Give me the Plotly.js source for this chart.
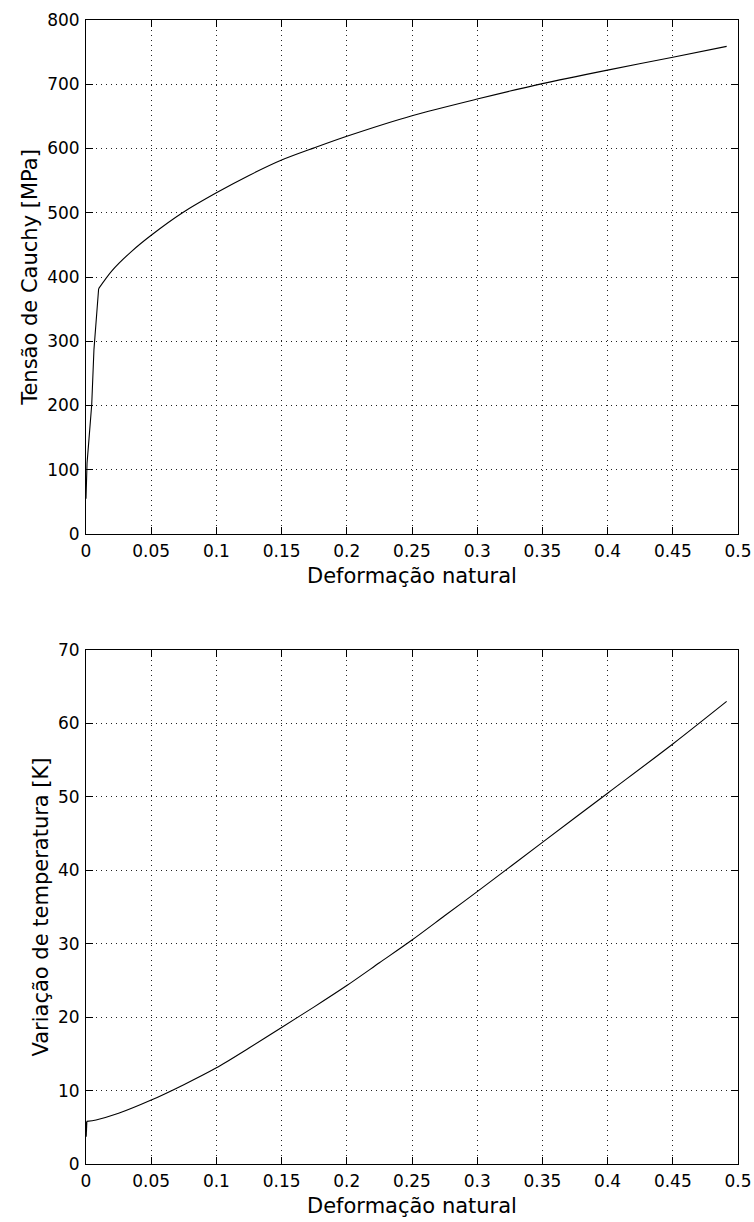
<!DOCTYPE html>
<html>
<head>
<meta charset="utf-8">
<script src="https://cdn.plot.ly/plotly-3.0.1.min.js"></script>
<style>html,body{margin:0;padding:0;background:#fff;}#chart{width:754px;height:1222px;}</style>
</head>
<body>
<div id="chart"></div>
<script>
// Stress-strain curve (top): elastic part and plastic hardening part
const strainElastic = [0, 0.0008, 0.0023, 0.0044, 0.0061, 0.0082, 0.0097];
const stressElastic = [55, 110, 148, 202, 287, 344, 382];
const strainPlastic = [0.0097, 0.02, 0.035, 0.05, 0.074, 0.1, 0.125, 0.15, 0.175, 0.2, 0.25, 0.3, 0.35, 0.4, 0.45, 0.4913];
const stressPlastic = [382, 410, 440, 465, 500, 531, 558, 582, 601, 619, 651, 677, 701, 722, 742, 759];
// Temperature curve (bottom)
const strainTempStart = [0, 0.0005];
const tempStart       = [3.7, 5.8];
const strainTemp = [0.0005, 0.0077, 0.025, 0.05, 0.075, 0.1, 0.125, 0.15, 0.175, 0.2, 0.225, 0.25, 0.275, 0.3, 0.35, 0.4, 0.45, 0.4913];
const tempRise   = [5.8, 6.0, 6.9, 8.7, 10.8, 13.1, 15.8, 18.6, 21.4, 24.3, 27.4, 30.5, 33.8, 37.1, 43.8, 50.5, 57.2, 63.0];

const xTickVals = [0, 0.05, 0.1, 0.15, 0.2, 0.25, 0.3, 0.35, 0.4, 0.45, 0.5];
const xTickText = ['0', '0.05', '0.1', '0.15', '0.2', '0.25', '0.3', '0.35', '0.4', '0.45', '0.5'];
const xTitle = 'Deformação natural';
const yTitle1 = 'Tensão de Cauchy [MPa]';
const yTitle2 = 'Variação de temperatura [K]';

const tickFont = {family: 'DejaVu Sans, sans-serif', size: 17, color: '#000'};
const titleFont = {family: 'DejaVu Sans, sans-serif', size: 21, color: '#000'};

function axisBase() {
  return {
    showline: true, linecolor: '#000', linewidth: 1, mirror: 'ticks',
    ticks: 'inside', ticklen: 7, tickcolor: '#000', tickwidth: 1,
    showgrid: true, gridcolor: '#222', gridwidth: 1, griddash: '1px,4px',
    zeroline: false, tickfont: tickFont
  };
}

const lineStyle = {color: '#000', width: 1.1};
const traces = [
  {x: strainElastic, y: stressElastic, type: 'scatter', mode: 'lines', line: lineStyle, xaxis: 'x', yaxis: 'y', hoverinfo: 'skip'},
  {x: strainPlastic, y: stressPlastic, type: 'scatter', mode: 'lines', line: Object.assign({shape: 'spline', smoothing: 0.8}, lineStyle), xaxis: 'x', yaxis: 'y', hoverinfo: 'skip'},
  {x: strainTempStart, y: tempStart, type: 'scatter', mode: 'lines', line: {color: '#000', width: 1.5}, xaxis: 'x2', yaxis: 'y2', hoverinfo: 'skip'},
  {x: strainTemp, y: tempRise, type: 'scatter', mode: 'lines', line: Object.assign({shape: 'spline', smoothing: 0.8}, lineStyle), xaxis: 'x2', yaxis: 'y2', hoverinfo: 'skip'}
];

const layout = {
  width: 754, height: 1222,
  margin: {l: 86, r: 16, t: 20, b: 58},
  paper_bgcolor: '#fff', plot_bgcolor: '#fff',
  showlegend: false,
  font: tickFont,
  xaxis: Object.assign(axisBase(), {domain: [0, 1], range: [0, 0.5], tickvals: xTickVals, ticktext: xTickText, anchor: 'y',
    ticklabelstandoff: 2, title: {text: xTitle, font: titleFont, standoff: 7}}),
  yaxis: Object.assign(axisBase(), {domain: [0.5507, 1], range: [0, 800], dtick: 100, anchor: 'x',
    ticklabelstandoff: 2, title: {text: yTitle1, font: titleFont, standoff: 3}}),
  xaxis2: Object.assign(axisBase(), {domain: [0, 1], range: [0, 0.5], tickvals: xTickVals, ticktext: xTickText, anchor: 'y2',
    ticklabelstandoff: 2, title: {text: xTitle, font: titleFont, standoff: 7}}),
  yaxis2: Object.assign(axisBase(), {domain: [0, 0.4493], range: [0, 70], dtick: 10, anchor: 'x2',
    ticklabelstandoff: 2, title: {text: yTitle2, font: titleFont, standoff: 3}})
};

Plotly.newPlot('chart', traces, layout, {staticPlot: true, displayModeBar: false});
</script>
</body>
</html>
